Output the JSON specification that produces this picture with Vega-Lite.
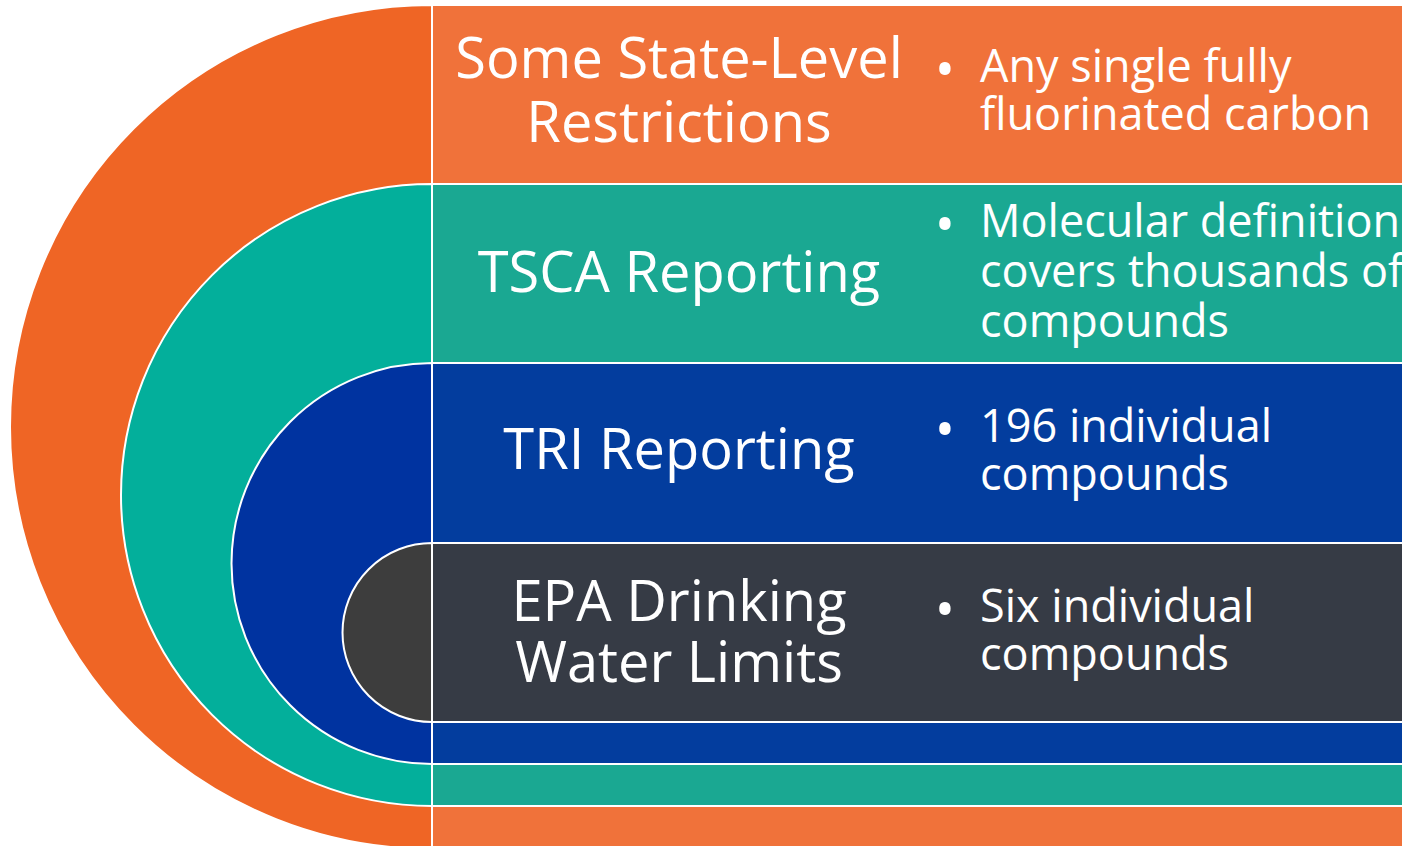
{
  "$schema": "https://vega.github.io/schema/vega-lite/v6.json",
  "width": 1402,
  "height": 846,
  "autosize": "none",
  "padding": 0,
  "background": "white",
  "config": {"view": {"stroke": null}},
  "datasets": {
    "bands": [
      {"band": "Some State-Level Restrictions", "cx": 432, "cy": 427, "r": 422, "top": 5, "bottom": 849},
      {"band": "TSCA Reporting", "cx": 432, "cy": 495, "r": 311, "top": 184, "bottom": 806},
      {"band": "TRI Reporting", "cx": 432, "cy": 563.5, "r": 200.5, "top": 363, "bottom": 764},
      {"band": "EPA Drinking Water Limits", "cx": 432, "cy": 632.5, "r": 89.5, "top": 543, "bottom": 722}
    ],
    "titles": [
      {"band": "Some State-Level Restrictions", "x": 679, "y": 78, "text": "Some State-Level"},
      {"band": "Some State-Level Restrictions", "x": 679, "y": 142, "text": "Restrictions"},
      {"band": "TSCA Reporting", "x": 679, "y": 292, "text": "TSCA Reporting"},
      {"band": "TRI Reporting", "x": 679, "y": 469, "text": "TRI Reporting"},
      {"band": "EPA Drinking Water Limits", "x": 679, "y": 621, "text": "EPA Drinking"},
      {"band": "EPA Drinking Water Limits", "x": 679, "y": 682, "text": "Water Limits"}
    ],
    "bodies": [
      {"band": "Some State-Level Restrictions", "x": 980, "y": 82, "text": "Any single fully"},
      {"band": "Some State-Level Restrictions", "x": 980, "y": 130, "text": "fluorinated carbon"},
      {"band": "TSCA Reporting", "x": 980, "y": 237, "text": "Molecular definition"},
      {"band": "TSCA Reporting", "x": 980, "y": 287, "text": "covers thousands of"},
      {"band": "TSCA Reporting", "x": 980, "y": 337, "text": "compounds"},
      {"band": "TRI Reporting", "x": 980, "y": 442, "text": "196 individual"},
      {"band": "TRI Reporting", "x": 980, "y": 490, "text": "compounds"},
      {"band": "EPA Drinking Water Limits", "x": 980, "y": 622, "text": "Six individual"},
      {"band": "EPA Drinking Water Limits", "x": 980, "y": 670, "text": "compounds"}
    ],
    "bullets": [
      {"band": "Some State-Level Restrictions", "x": 945, "y": 82},
      {"band": "TSCA Reporting", "x": 945, "y": 237},
      {"band": "TRI Reporting", "x": 945, "y": 442},
      {"band": "EPA Drinking Water Limits", "x": 945, "y": 622}
    ]
  },
  "layer": [
    {
      "data": {"name": "bands"},
      "mark": {"type": "arc", "theta": 3.14159265, "theta2": 6.28318531, "stroke": "white", "strokeWidth": 2, "clip": true},
      "encoding": {
        "x": {"field": "cx", "type": "quantitative", "scale": {"domain": [0, 1402], "nice": false, "zero": false}, "axis": null},
        "y": {"field": "cy", "type": "quantitative", "scale": {"domain": [0, 846], "nice": false, "zero": false, "reverse": true}, "axis": null},
        "radius": {"field": "r", "type": "quantitative", "scale": null, "stack": null},
        "color": {"field": "band", "type": "nominal", "legend": null,
          "scale": {"domain": ["Some State-Level Restrictions", "TSCA Reporting", "TRI Reporting", "EPA Drinking Water Limits"],
                    "range": ["#EF6525", "#03AF9B", "#0033A0", "#3D3D3D"]}}
      }
    },
    {
      "data": {"name": "bands"},
      "mark": {"type": "rect", "stroke": "white", "strokeWidth": 2, "clip": true},
      "encoding": {
        "x": {"field": "cx", "type": "quantitative"},
        "x2": {"datum": 1412},
        "y": {"field": "top", "type": "quantitative"},
        "y2": {"field": "bottom"},
        "fill": {"field": "band", "type": "nominal", "legend": null,
          "scale": {"domain": ["Some State-Level Restrictions", "TSCA Reporting", "TRI Reporting", "EPA Drinking Water Limits"],
                    "range": ["#F0723A", "#1AA892", "#033D9E", "#363B45"]}}
      }
    },
    {
      "data": {"name": "titles"},
      "mark": {"type": "text", "align": "center", "baseline": "alphabetic", "font": "Open Sans", "fontSize": 56, "color": "white", "clip": true},
      "encoding": {
        "x": {"field": "x", "type": "quantitative"},
        "y": {"field": "y", "type": "quantitative"},
        "text": {"field": "text"}
      }
    },
    {
      "data": {"name": "bodies"},
      "mark": {"type": "text", "align": "left", "baseline": "alphabetic", "font": "Open Sans", "fontSize": 45, "color": "white", "clip": true},
      "encoding": {
        "x": {"field": "x", "type": "quantitative"},
        "y": {"field": "y", "type": "quantitative"},
        "text": {"field": "text"}
      }
    },
    {
      "data": {"name": "bullets"},
      "mark": {"type": "text", "align": "center", "baseline": "alphabetic", "font": "Open Sans", "fontSize": 54, "color": "white", "text": "•", "dy": 7, "clip": true},
      "encoding": {
        "x": {"field": "x", "type": "quantitative"},
        "y": {"field": "y", "type": "quantitative"}
      }
    }
  ]
}
